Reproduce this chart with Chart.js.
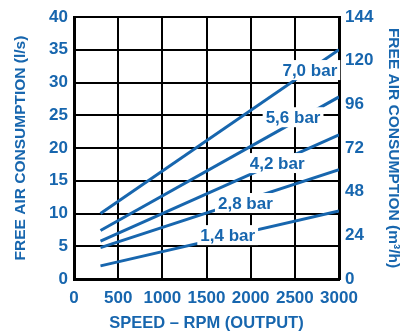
<!DOCTYPE html>
<html>
<head>
<meta charset="utf-8">
<script src="https://cdn.jsdelivr.net/npm/chart.js@4.4.1/dist/chart.umd.min.js"></script>
<style>
  html, body { margin: 0; padding: 0; background: #fff; }
  #wrap { width: 407px; height: 333px; }
</style>
</head>
<body>
<div id="wrap"><canvas id="chart" width="407" height="333"></canvas></div>
<script>
// pressures and straight lines from start rpm to end rpm
var pressures = ["1,4 bar", "2,8 bar", "4,2 bar", "5,6 bar", "7,0 bar"];
var speedRange = [300, 3000];
var flowAtStart = [2.0, 4.8, 5.8, 7.4, 10.0];
var flowAtEnd = [10.4, 16.7, 22.0, 27.8, 35.0];
// where each label sits (rpm, l/s)
var labelRpm = [1740, 1940, 2300, 2480, 2670];
var labelFlow = [6.7, 11.6, 17.7, 24.7, 31.9];

var xTicks = [0, 500, 1000, 1500, 2000, 2500, 3000];
var leftTicks = [0, 5, 10, 15, 20, 25, 30, 35, 40];
var rightTicks = [0, 24, 48, 72, 96, 120, 144];

var blue = '#1766ae';
var font = '"Liberation Sans", Arial, sans-serif';

var datasets = pressures.map(function(p, i) {
  return {
    label: p,
    data: [{x: speedRange[0], y: flowAtStart[i]}, {x: speedRange[1], y: flowAtEnd[i]}],
    borderColor: blue,
    borderWidth: 3,
    pointRadius: 0,
    fill: false,
    yAxisID: 'y'
  };
});

var barLabels = {
  id: 'barLabels',
  afterDatasetsDraw: function(chart) {
    var ctx = chart.ctx;
    var xs = chart.scales.x, ys = chart.scales.y;
    ctx.save();
    ctx.font = 'bold 17px ' + font;
    ctx.textAlign = 'center';
    ctx.textBaseline = 'middle';
    pressures.forEach(function(p, i) {
      var px = xs.getPixelForValue(labelRpm[i]);
      var py = ys.getPixelForValue(labelFlow[i]);
      var w = ctx.measureText(p).width;
      ctx.fillStyle = '#fff';
      ctx.fillRect(px - w / 2 - 3, py - 10, w + 6, 20);
      ctx.fillStyle = blue;
      ctx.fillText(p, px, py + 1);
    });
    ctx.restore();
  }
};

var tickFont = { family: font, size: 17, weight: 'bold' };
var titleFont = { family: font, size: 15.5, weight: 'bold' };
var plain = function(v) { return String(v); };

new Chart(document.getElementById('chart'), {
  type: 'line',
  data: { datasets: datasets },
  plugins: [barLabels],
  options: {
    responsive: false,
    animation: false,
    layout: { padding: { top: 17, left: 0, right: 0, bottom: 0 } },
    plugins: { legend: { display: false }, tooltip: { enabled: false } },
    scales: {
      x: {
        type: 'linear',
        min: 0, max: 3000,
        afterBuildTicks: function(s) { s.ticks = xTicks.map(function(v) { return {value: v}; }); },
        grid: { color: '#000', lineWidth: 2, drawTicks: false },
        border: { color: '#000', width: 3 },
        ticks: { color: blue, font: tickFont, padding: 9, maxRotation: 0, autoSkip: false, callback: plain },
        title: { display: true, text: 'SPEED – RPM (OUTPUT)', color: blue, font: { family: font, size: 16.5, weight: 'bold' }, padding: { top: 3, bottom: 0 } },
        afterFit: function(s) { s.height = 54; }
      },
      y: {
        position: 'left',
        min: 0, max: 40,
        afterBuildTicks: function(s) { s.ticks = leftTicks.map(function(v) { return {value: v}; }); },
        grid: { color: '#000', lineWidth: 2, drawTicks: false },
        border: { color: '#000', width: 3 },
        ticks: { color: blue, font: tickFont, padding: 6, autoSkip: false, callback: plain },
        title: { display: true, text: 'FREE AIR CONSUMPTION (l/s)', color: blue, font: titleFont, padding: { top: 11, bottom: 0 } },
        afterFit: function(s) { s.width = 74; }
      },
      y2: {
        position: 'right',
        min: 0, max: 144,
        afterBuildTicks: function(s) { s.ticks = rightTicks.map(function(v) { return {value: v}; }); },
        grid: { display: false, drawTicks: false },
        border: { color: '#000', width: 3 },
        ticks: { color: blue, font: tickFont, padding: 6, autoSkip: false, callback: plain },
        title: { display: true, text: 'FREE AIR CONSUMPTION (m³/h)', color: blue, font: titleFont, padding: { top: 4, bottom: 0 } },
        afterFit: function(s) { s.width = 68; }
      }
    }
  }
});
</script>
</body>
</html>
